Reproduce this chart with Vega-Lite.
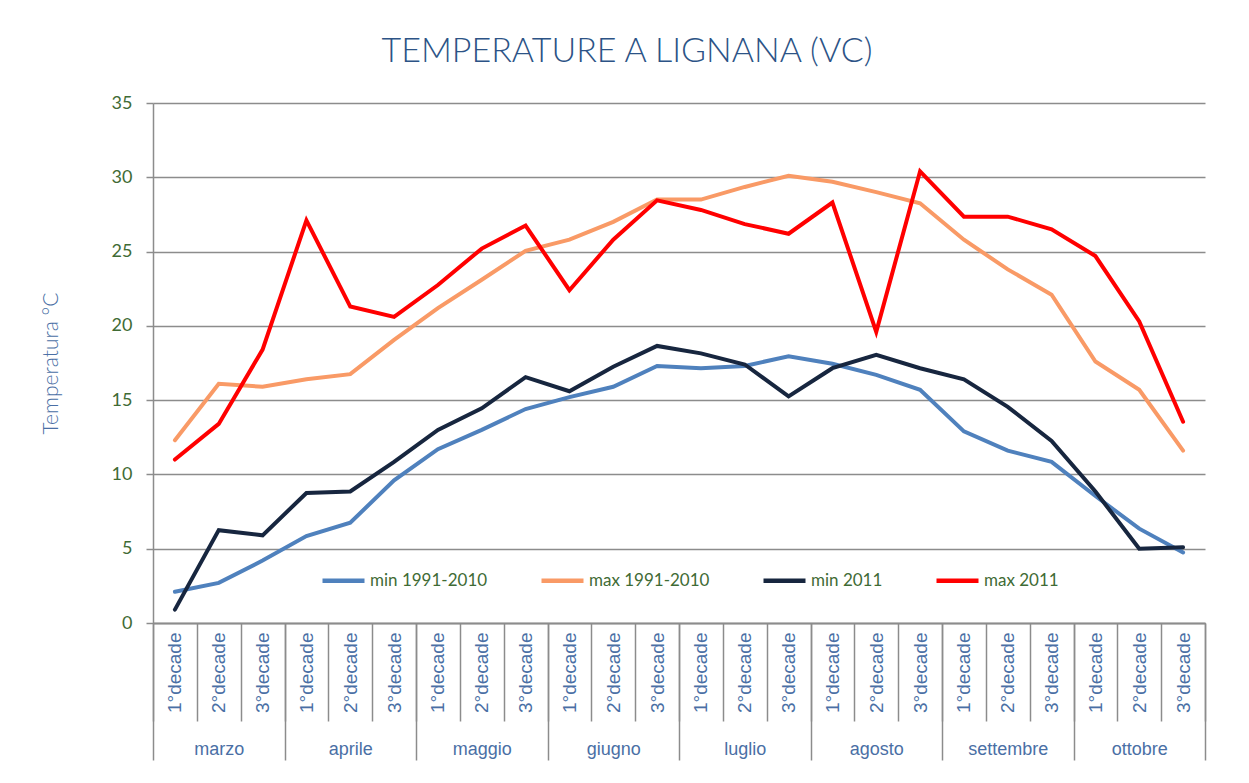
{
  "$schema": "https://vega.github.io/schema/vega-lite/v6.json",
  "autosize": {"type": "none"},
  "padding": {"left": 153, "top": 103, "right": 44, "bottom": 160},
  "width": 1052,
  "height": 520,
  "background": "white",
  "title": {
    "text": "TEMPERATURE A LIGNANA (VC)",
    "font": "Lato",
    "fontSize": 34,
    "fontWeight": 300,
    "color": "#2c5386",
    "anchor": "middle",
    "frame": "group",
    "dx": -52,
    "baseline": "alphabetic",
    "offset": -2
  },
  "data": {
    "values": [
      {"mese": "marzo", "k": "marzo 1°decade", "min 1991-2010": 2.1, "max 1991-2010": 12.3, "min 2011": 0.9, "max 2011": 11.0},
      {"mese": "marzo", "k": "marzo 2°decade", "min 1991-2010": 2.7, "max 1991-2010": 16.1, "min 2011": 6.25, "max 2011": 13.4},
      {"mese": "marzo", "k": "marzo 3°decade", "min 1991-2010": 4.2, "max 1991-2010": 15.9, "min 2011": 5.9, "max 2011": 18.4},
      {"mese": "aprile", "k": "aprile 1°decade", "min 1991-2010": 5.85, "max 1991-2010": 16.4, "min 2011": 8.75, "max 2011": 27.1},
      {"mese": "aprile", "k": "aprile 2°decade", "min 1991-2010": 6.75, "max 1991-2010": 16.75, "min 2011": 8.85, "max 2011": 21.3},
      {"mese": "aprile", "k": "aprile 3°decade", "min 1991-2010": 9.6, "max 1991-2010": 19.05, "min 2011": 10.85, "max 2011": 20.6},
      {"mese": "maggio", "k": "maggio 1°decade", "min 1991-2010": 11.7, "max 1991-2010": 21.2, "min 2011": 13.0, "max 2011": 22.75},
      {"mese": "maggio", "k": "maggio 2°decade", "min 1991-2010": 13.0, "max 1991-2010": 23.1, "min 2011": 14.45, "max 2011": 25.2},
      {"mese": "maggio", "k": "maggio 3°decade", "min 1991-2010": 14.4, "max 1991-2010": 25.05, "min 2011": 16.55, "max 2011": 26.75},
      {"mese": "giugno", "k": "giugno 1°decade", "min 1991-2010": 15.2, "max 1991-2010": 25.8, "min 2011": 15.6, "max 2011": 22.4},
      {"mese": "giugno", "k": "giugno 2°decade", "min 1991-2010": 15.9, "max 1991-2010": 27.0, "min 2011": 17.25, "max 2011": 25.8},
      {"mese": "giugno", "k": "giugno 3°decade", "min 1991-2010": 17.3, "max 1991-2010": 28.5, "min 2011": 18.65, "max 2011": 28.45},
      {"mese": "luglio", "k": "luglio 1°decade", "min 1991-2010": 17.15, "max 1991-2010": 28.5, "min 2011": 18.15, "max 2011": 27.8},
      {"mese": "luglio", "k": "luglio 2°decade", "min 1991-2010": 17.3, "max 1991-2010": 29.35, "min 2011": 17.4, "max 2011": 26.85},
      {"mese": "luglio", "k": "luglio 3°decade", "min 1991-2010": 17.95, "max 1991-2010": 30.1, "min 2011": 15.25, "max 2011": 26.2},
      {"mese": "agosto", "k": "agosto 1°decade", "min 1991-2010": 17.45, "max 1991-2010": 29.7, "min 2011": 17.15, "max 2011": 28.3},
      {"mese": "agosto", "k": "agosto 2°decade", "min 1991-2010": 16.7, "max 1991-2010": 29.0, "min 2011": 18.05, "max 2011": 19.6},
      {"mese": "agosto", "k": "agosto 3°decade", "min 1991-2010": 15.7, "max 1991-2010": 28.25, "min 2011": 17.15, "max 2011": 30.4},
      {"mese": "settembre", "k": "settembre 1°decade", "min 1991-2010": 12.9, "max 1991-2010": 25.8, "min 2011": 16.4, "max 2011": 27.35},
      {"mese": "settembre", "k": "settembre 2°decade", "min 1991-2010": 11.6, "max 1991-2010": 23.8, "min 2011": 14.55, "max 2011": 27.35},
      {"mese": "settembre", "k": "settembre 3°decade", "min 1991-2010": 10.85, "max 1991-2010": 22.1, "min 2011": 12.25, "max 2011": 26.5},
      {"mese": "ottobre", "k": "ottobre 1°decade", "min 1991-2010": 8.55, "max 1991-2010": 17.6, "min 2011": 8.85, "max 2011": 24.7},
      {"mese": "ottobre", "k": "ottobre 2°decade", "min 1991-2010": 6.35, "max 1991-2010": 15.7, "min 2011": 5.0, "max 2011": 20.3},
      {"mese": "ottobre", "k": "ottobre 3°decade", "min 1991-2010": 4.75, "max 1991-2010": 11.6, "min 2011": 5.1, "max 2011": 13.55}
    ]
  },
  "transform": [
    {"fold": ["min 1991-2010", "max 1991-2010", "min 2011", "max 2011"], "as": ["serie", "t"]}
  ],
  "layer": [
    {
      "mark": {"type": "line", "strokeWidth": 4, "strokeJoin": "miter", "strokeCap": "round"},
      "encoding": {
        "x": {
          "field": "k",
          "type": "ordinal",
          "sort": null,
          "scale": {"type": "band", "paddingInner": 0, "paddingOuter": 0},
          "axis": {
            "title": null,
            "orient": "bottom",
            "labelExpr": "split(datum.label, ' ')[1]",
            "labelAngle": -90,
            "labelAlign": "right",
            "labelBaseline": "middle",
            "labelFont": "Liberation Sans",
            "labelFontSize": 19,
            "labelColor": "#4a6fa5",
            "labelPadding": -89,
            "tickSize": 98,
            "tickBand": "extent",
            "tickColor": "#8c8c8c",
            "tickWidth": 1.5,
            "domainColor": "#8c8c8c",
            "domainWidth": 1.5,
            "grid": false
          }
        },
        "y": {
          "field": "t",
          "type": "quantitative",
          "scale": {"domain": [0, 35], "nice": false},
          "axis": {
            "title": "Temperatura °C",
            "titleFont": "Lato",
            "titleFontSize": 21,
            "titleFontWeight": 300,
            "titleColor": "#4a6fa5",
            "titlePadding": 50,
            "values": [0, 5, 10, 15, 20, 25, 30, 35],
            "labelFont": "Lato",
            "labelFontSize": 18,
            "labelColor": "#3f6b35",
            "labelPadding": 14,
            "tickSize": 7,
            "tickColor": "#8c8c8c",
            "tickWidth": 1.5,
            "domainColor": "#8c8c8c",
            "domainWidth": 1.5,
            "gridColor": "#8c8c8c",
            "gridWidth": 1.5
          }
        },
        "color": {
          "field": "serie",
          "type": "nominal",
          "scale": {
            "domain": ["min 1991-2010", "max 1991-2010", "min 2011", "max 2011"],
            "range": ["#4f81bd", "#f99a66", "#17263f", "#ff0000"]
          },
          "legend": {
            "title": null,
            "orient": "none",
            "legendX": 167,
            "legendY": 454,
            "direction": "horizontal",
            "symbolType": "stroke",
            "symbolSize": 1764,
            "symbolStrokeWidth": 4.5,
            "labelFont": "Lato",
            "labelFontSize": 17,
            "labelColor": "#3f6b35",
            "labelOffset": 3,
            "columnPadding": 44,
            "labelLimit": 300
          }
        }
      }
    },
    {
      "mark": {"type": "point", "opacity": 0},
      "encoding": {
        "x": {
          "field": "mese",
          "type": "ordinal",
          "sort": null,
          "scale": {"type": "band", "paddingInner": 0, "paddingOuter": 0},
          "axis": {
            "title": null,
            "orient": "bottom",
            "labelAngle": 0,
            "labelFont": "Liberation Sans",
            "labelFontSize": 18,
            "labelColor": "#4a6fa5",
            "labelBaseline": "middle",
            "labelPadding": -11,
            "tickSize": 137,
            "tickBand": "extent",
            "tickColor": "#8c8c8c",
            "tickWidth": 1.5,
            "domainColor": "#8c8c8c",
            "domainWidth": 1.5,
            "grid": false
          }
        },
        "y": {"field": "t", "type": "quantitative"}
      }
    }
  ],
  "resolve": {"scale": {"x": "independent"}},
  "config": {"view": {"stroke": null}}
}
